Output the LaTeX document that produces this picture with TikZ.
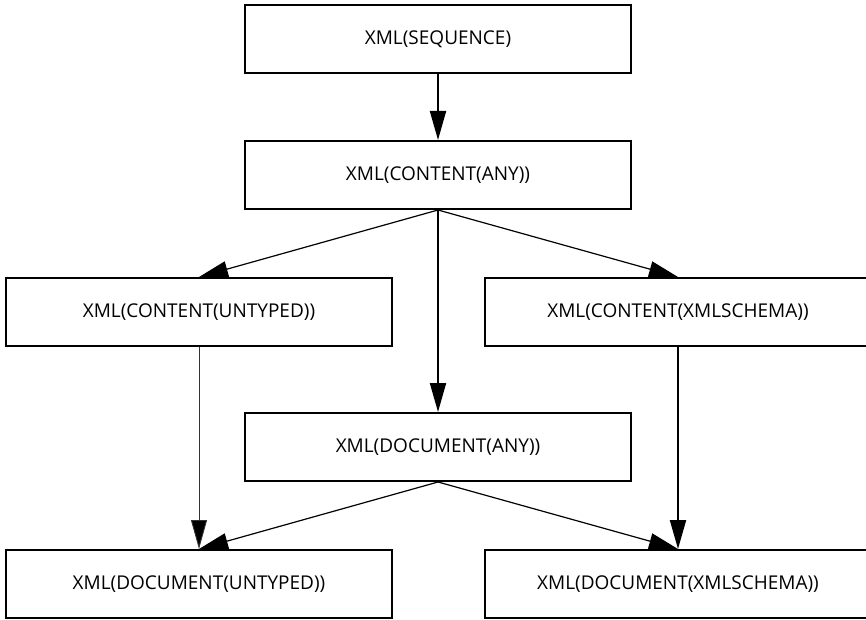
\documentclass[tikz,border=0pt]{standalone}
\usepackage{fontspec}
\setmainfont{Open Sans}
\usetikzlibrary{arrows.meta}
\begin{document}
\begin{tikzpicture}[x=1pt,y=-1pt,
  box/.style={draw=black, line width=2pt, rectangle, minimum width=386pt,
    minimum height=68pt, inner sep=0pt, font=\fontsize{19}{22}\selectfont},
  link/.style={line width=2pt, -{Triangle[length=29pt,width=16pt]}},
  thinlink/.style={line width=1.2pt, -{Triangle[length=29pt,width=16pt]}},
  hairlink/.style={line width=0.9pt, draw=black!80, -{Triangle[length=29pt,width=16pt,fill=black]}}]
\useasboundingbox (0,0) rectangle (866,620);
\node[box] (seq)  at (438,39)  {XML(SEQUENCE)};
\node[box] (cany) at (438,175) {XML(CONTENT(ANY))};
\node[box] (cunt) at (199,312) {XML(CONTENT(UNTYPED))};
\node[box] (cxs)  at (678,312) {XML(CONTENT(XMLSCHEMA))};
\node[box] (dany) at (438,447) {XML(DOCUMENT(ANY))};
\node[box] (dunt) at (199,584) {XML(DOCUMENT(UNTYPED))};
\node[box] (dxs)  at (678,584) {XML(DOCUMENT(XMLSCHEMA))};

\draw[link] (seq.south) -- (cany.north);
\draw[link] (cany.south) -- (dany.north);
\draw[thinlink] (cany.south) -- (cunt.north);
\draw[thinlink] (cany.south) -- (cxs.north);
\draw[hairlink] (cunt.south) -- (dunt.north);
\draw[link] (cxs.south) -- (dxs.north);
\draw[thinlink] (dany.south) -- (dunt.north);
\draw[thinlink] (dany.south) -- (dxs.north);
\end{tikzpicture}
\end{document}
